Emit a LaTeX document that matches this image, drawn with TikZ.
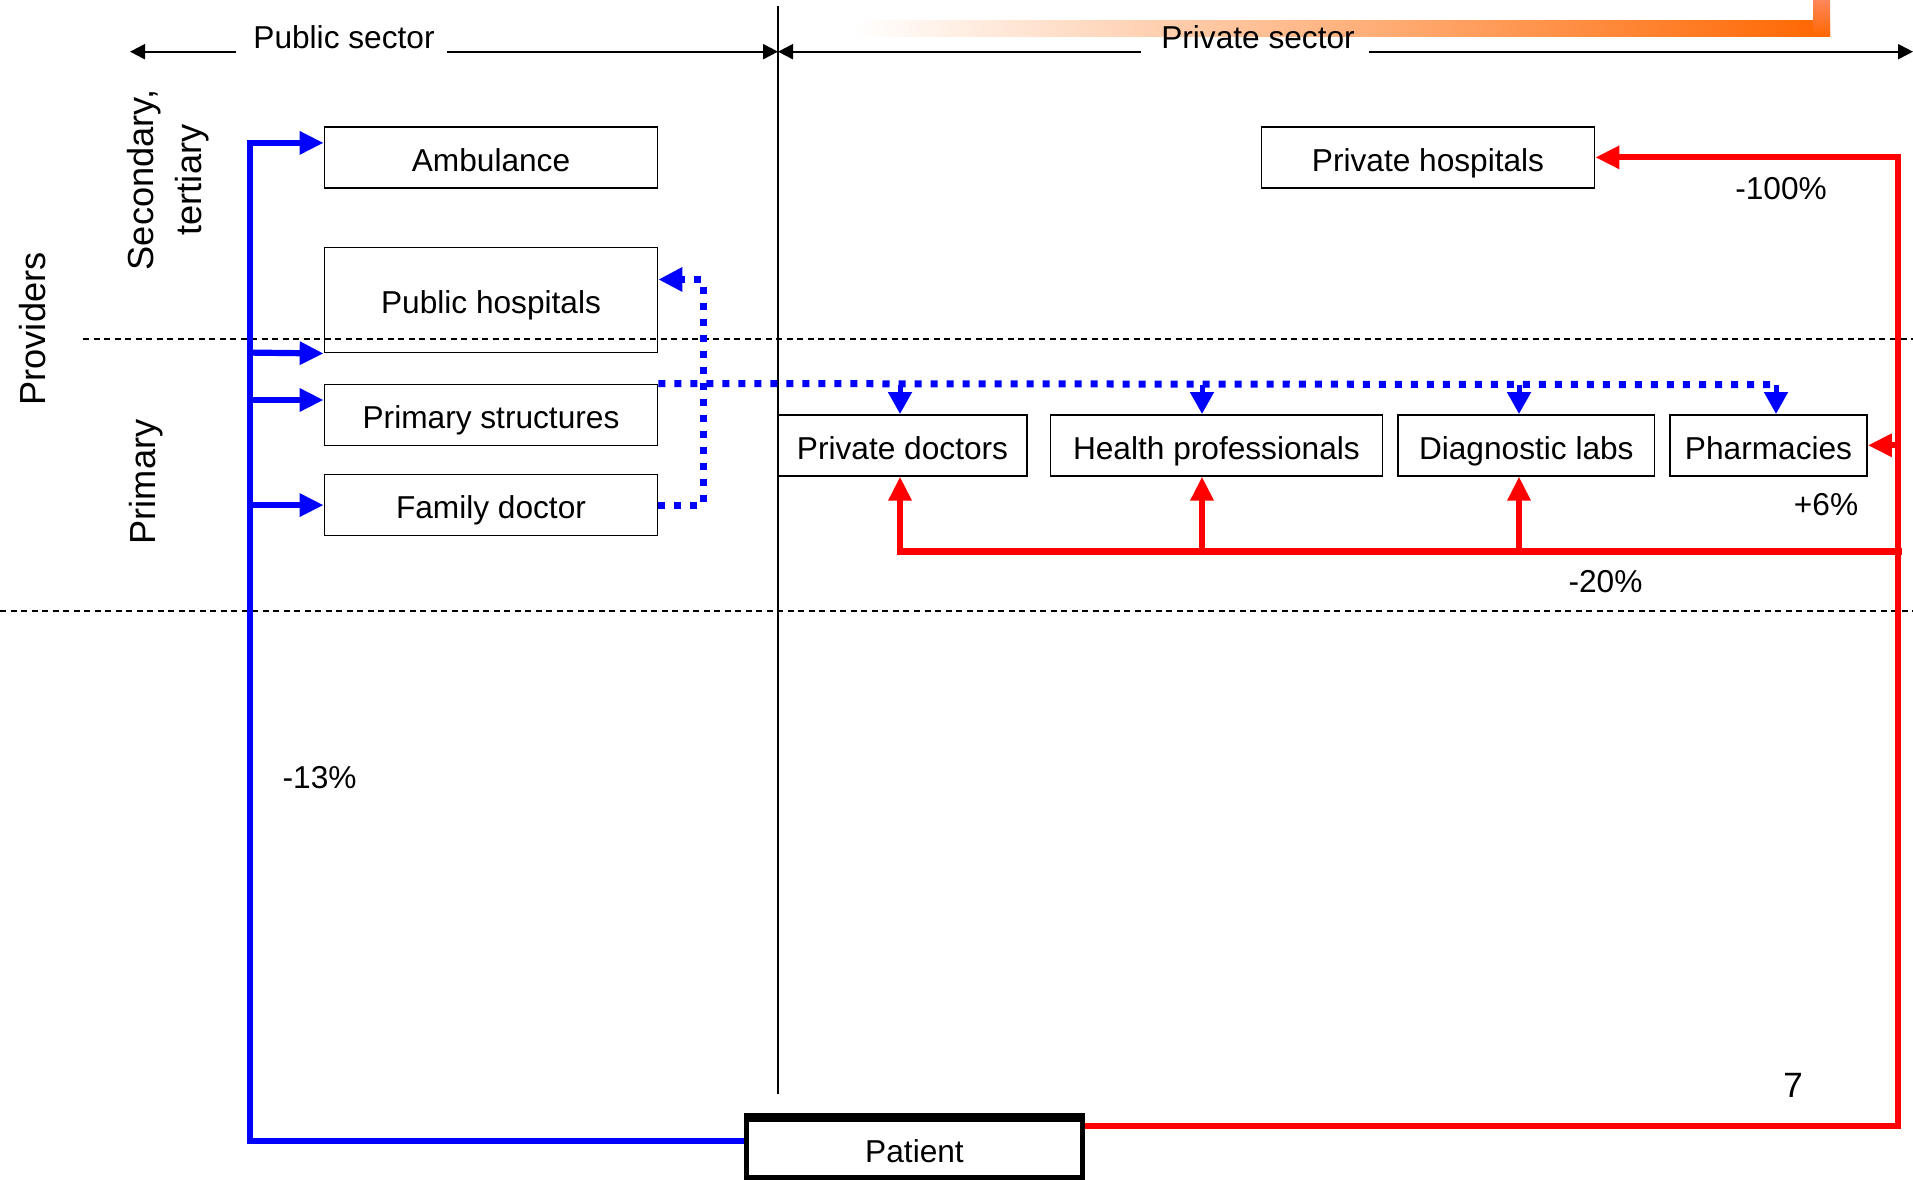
\documentclass[tikz,border=0pt]{standalone}
\usepackage{fontspec}
\setmainfont{Liberation Sans}
\usetikzlibrary{arrows.meta,calc}
\definecolor{orng}{RGB}{255,102,0}
\definecolor{orngl}{RGB}{255,135,90}
\begin{document}
\begin{tikzpicture}[x=0.01cm,y=-0.01cm,
  box/.style={draw,line width=0.015cm,inner sep=0pt,minimum height=0.61cm,text height=7.8pt,text depth=0pt,font=\fontsize{9}{11}\selectfont},
  lbl/.style={font=\fontsize{9}{11}\selectfont,inner sep=0pt},
  side/.style={font=\fontsize{10.3}{13.5}\selectfont,rotate=90,inner sep=0pt,align=center},
  secarr/.style={line width=0.02cm,-{Triangle[length=0.15cm,width=0.15cm]}},
  dashln/.style={line width=0.013cm,dash pattern=on 0.06cm off 0.045cm},
  blueln/.style={draw=blue,line width=0.062cm},
  bluearr/.style={blueln,-{Triangle[length=0.24cm,width=0.22cm]}},
  bluedot/.style={draw=blue,line width=0.07cm,dash pattern=on 0.07cm off 0.09cm},
  bluedotarr/.style={bluedot,-{Triangle[length=0.24cm,width=0.23cm]}},
  bluedown/.style={draw=blue,line width=0.05cm,-{Triangle[length=0.22cm,width=0.23cm]}},
  redarr/.style={draw=red,line width=0.062cm,-{Triangle[length=0.24cm,width=0.22cm]}},
  redbar/.style={draw=red,line width=0.07cm,line cap=rect}]
\useasboundingbox (0,0) rectangle (1913,1180);

% orange decoration
\shade[left color=white,right color=orng] (854,20.7) rectangle (1830,36.7);
\shade[top color=orngl,bottom color=orng] (1813,0) rectangle (1830,36.7);

% dashed separators
\coordinate (h1a) at (83,339); \coordinate (h1b) at (1913,339);
\coordinate (h2a) at (0,611); \coordinate (h2b) at (1913,611);
\draw[dashln] (h1a) -- (h1b);
\draw[dashln] (h2a) -- (h2b);

% vertical divider
\coordinate (vt) at (778,6); \coordinate (vb) at (778,1094);
\draw[line width=0.015cm] (vt) -- (vb);

% sector headers
\node[lbl] (pubs) at (344,37) {Public sector};
\node[lbl] (privs) at (1258,37) {Private sector};
\coordinate (pl) at (130,51.7); \coordinate (pm) at (778,51.7); \coordinate (pr) at (1913,51.7);
\coordinate (psl) at (235.5,51.7); \coordinate (psr) at (446.5,51.7);
\coordinate (pvl) at (1140.7,51.7); \coordinate (pvr) at (1368.8,51.7);
\draw[secarr] (psl) -- (pl);
\draw[secarr] (psr) -- (pm);
\draw[secarr] (pvl) -- (pm);
\draw[secarr] (pvr) -- (pr);

% side labels
\node[side] (prov) at (33,329) {Providers};
\node[side] (sect) at (168,180) {Secondary,\\tertiary};
\node[side] (prim) at (146,482) {Primary};

% boxes
\node[box,minimum width=3.33cm] (amb) at (491,157.4) {Ambulance};
\node[box,minimum width=3.33cm,minimum height=1.05cm] (pubh) at (491,300.2) {Public hospitals};
\node[box,minimum width=3.33cm] (prims) at (491,414.8) {Primary structures};
\node[box,minimum width=3.33cm] (famd) at (491,505.1) {Family doctor};
\node[box,minimum width=3.33cm] (privh) at (1428,157.4) {Private hospitals};
\node[box,minimum width=2.49cm] (privd) at (902.5,445.3) {Private doctors};
\node[box,minimum width=3.32cm] (hprof) at (1216.4,445.3) {Health professionals};
\node[box,minimum width=2.565cm] (dlabs) at (1526.3,445.3) {Diagnostic labs};
\node[box,minimum width=1.97cm] (pharm) at (1768.5,445.3) {Pharmacies};
\node[box,minimum width=3.35cm,minimum height=0.58cm,line width=0.05cm] (pat) at (914.5,1148.4) {Patient};
\draw[line width=0.08cm] (pat.north west) -- (pat.north east);

% blue public flows
\coordinate (b0) at (250,1140.7);
\coordinate (b1) at (250,142.9);
\coordinate (b2) at (250,352.6);
\coordinate (b3) at (250,400);
\coordinate (b4) at (250,505.1);
\draw[bluearr] (pat.west |- b0) -- (b0) -- (b1) -- (amb.west |- b1);
\draw[bluearr] (b2) -- (pubh.south west);
\draw[bluearr] (b3) -- (prims.west |- b3);
\draw[bluearr] (b4) -- (famd.west);

% blue dotted referrals
\coordinate (d1) at (703,279.5);
\draw[bluedotarr] (famd.east) -| (d1) -- (pubh.east |- d1);
\coordinate (a1) at (900,384.7);
\coordinate (a2) at (1202,384.7);
\coordinate (a3) at (1519,384.7);
\coordinate (a4) at (1776,384.7);
\draw[bluedot] (prims.north east) -- (a4);
\draw[bluedown] (a1) -- (a1 |- privd.north);
\draw[bluedown] (a2) -- (a2 |- hprof.north);
\draw[bluedown] (a3) -- (a3 |- dlabs.north);
\draw[bluedown] (a4) -- (a4 |- pharm.north);

% red private flows
\coordinate (r0) at (1898,1126);
\coordinate (r1) at (1898,157.4);
\draw[redarr] (pat.east |- r0) -- (r0) -- (r1) -- (privh.east);
\draw[redarr] (pharm.east -| r0) -- (pharm.east);
\coordinate (q0) at (1898,551.7);
\coordinate (q1) at (900,551.7);
\coordinate (q2) at (1202,551.7);
\coordinate (q3) at (1519,551.7);
\draw[redbar] (q0) -- (q1);
\draw[redarr] (q1) -- (q1 |- privd.south);
\draw[redarr] (q2) -- (q2 |- hprof.south);
\draw[redarr] (q3) -- (q3 |- dlabs.south);

% percentages
\node[lbl] (l100) at (1781,189) {-100\%};
\node[lbl] (l6) at (1826,505) {+6\%};
\node[lbl] (l20) at (1605.5,582) {-20\%};
\node[lbl] (l13) at (319.6,778) {-13\%};
\node[font=\fontsize{10}{12}\selectfont,inner sep=0pt] (pg) at (1793,1085) {7};
\end{tikzpicture}
\end{document}
